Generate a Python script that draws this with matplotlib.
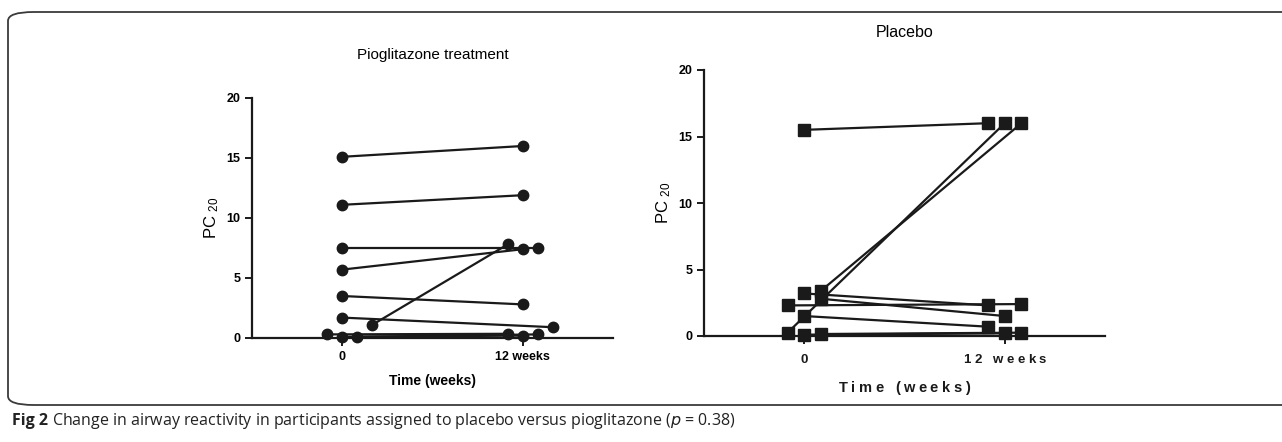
import matplotlib.pyplot as plt
from matplotlib.patches import FancyBboxPatch

plt.rcParams['font.family'] = ['Liberation Sans', 'DejaVu Sans']
plt.rcParams['mathtext.default'] = 'regular'

# Pioglitazone: x positions (jittered) and PC20 at baseline and 12 weeks
pio_x0 = [0, 0, 0, 0, 0, 0, -1, 0, 1, 2]
pio_y0 = [15.1, 11.1, 7.5, 5.7, 3.5, 1.7, 0.3, 0.1, 0.1, 1.1]
pio_x1 = [12, 12, 13, 12, 12, 14, 11, 12, 13, 11]
pio_y1 = [16.0, 11.9, 7.5, 7.4, 2.8, 0.9, 0.35, 0.2, 0.3, 7.8]

# Placebo
pla_x0 = [0, -1, 1, 0, 1, -1, 0, 0, 1]
pla_y0 = [15.5, 0.25, 3.4, 3.2, 2.8, 2.3, 1.5, 0.1, 0.15]
pla_x1 = [11, 12, 13, 11, 12, 13, 11, 12, 13]
pla_y1 = [16, 16, 16, 2.3, 1.5, 2.4, 0.7, 0.2, 0.25]

xticks = [0, 12]
xticklabels = ['0', '12 weeks']
yticks = [0, 5, 10, 15, 20]

fig = plt.figure(figsize=(12.82, 4.42), dpi=100)


def char_widths(s, **kw):
    r = fig.canvas.get_renderer()
    out = []
    for ch in s:
        if ch == ' ':
            a = fig.text(0, 0, 'aa', **kw).get_window_extent(r).width
            b = fig.text(0, 0, 'a a', **kw).get_window_extent(r).width
            out.append(b - a)
        else:
            out.append(fig.text(0, 0, ch, **kw).get_window_extent(r).width)
    for t in list(fig.texts):
        t.remove()
    return out


def spaced(ax, x, y, s, gap, xycoords, dy, **kw):
    # draws s with extra letter spacing, centred on (x, y)
    ws = char_widths(s, **kw)
    total = sum(ws) + gap * (len(s) - 1)
    off = -total / 2
    for ch, w in zip(s, ws):
        if ch != ' ':
            ax.annotate(ch, (x, y), xycoords=xycoords, xytext=(off + w / 2, dy),
                        textcoords='offset pixels', ha='center', va='top',
                        annotation_clip=False, **kw)
        off += w + gap


# rounded frame around the panels
frame = FancyBboxPatch((8/1282, 1-405/442), 1.2, 393/442,
                       boxstyle='round,pad=0,rounding_size=0.02',
                       transform=fig.transFigure, fill=False,
                       edgecolor='#3a3a3a', linewidth=1.3, clip_on=False)
fig.patches.append(frame)

ax1 = fig.add_axes([252/1282, 1-338/442, 361/1282, 240/442])
ax2 = fig.add_axes([704/1282, 1-336/442, 401/1282, 266/442])

col = '#1a1a1a'
for xa, ya, xb, yb in zip(pio_x0, pio_y0, pio_x1, pio_y1):
    ax1.plot([xa, xb], [ya, yb], color=col, lw=1.6, marker='o', ms=7.5,
             clip_on=False, zorder=3)
for xa, ya, xb, yb in zip(pla_x0, pla_y0, pla_x1, pla_y1):
    ax2.plot([xa, xb], [ya, yb], color=col, lw=1.6, marker='s', ms=8,
             clip_on=False, zorder=3)

for ax in (ax1, ax2):
    ax.set_xlim(-6, 18)
    ax.set_ylim(0, 20)
    ax.spines['top'].set_visible(False)
    ax.spines['right'].set_visible(False)
    ax.spines['left'].set_linewidth(1.6)
    ax.spines['bottom'].set_linewidth(1.6)
    ax.spines['left'].set_color(col)
    ax.spines['bottom'].set_color(col)
    ax.set_yticks(yticks)
    ax.set_xticks(xticks)
    ax.tick_params(width=1.4, length=5, color=col)
    ax.tick_params(axis='x', length=6)
    ax.set_ylabel('PC $_{20}$', fontsize=12)
    ax.set_yticklabels([str(v) for v in yticks], fontsize=9, fontweight='bold')

ax1.set_xticklabels(xticklabels, fontsize=9, fontweight='bold')
ax1.set_xlabel('Time (weeks)', fontsize=10, fontweight='bold', labelpad=8)
ax1.set_title('Pioglitazone treatment', fontsize=11, pad=28)
ax2.set_title('Placebo', fontsize=11.5, pad=24)

# the placebo panel has letter-spaced x labels
ax2.set_xticklabels([])
for xv, lab in zip(xticks, xticklabels):
    spaced(ax2, xv, 0, lab, 3.5, ('data', 'axes fraction'), -18,
           fontsize=9.5, fontweight='bold', color=col)
spaced(ax2, 0.5, 0, 'Time (weeks)', 3.5, 'axes fraction', -45,
       fontsize=10.5, fontweight='bold', color=col)

# caption
cap_kw = dict(fontsize=11.5, color='#222222', va='center',
              family=['Open Sans', 'DejaVu Sans'])
t1 = fig.text(12/1282, 1-421/442, 'Fig 2', fontweight='bold', **cap_kw)
bb = t1.get_window_extent(fig.canvas.get_renderer())
fig.text((bb.x1 + 4)/1282, 1-421/442,
         'Change in airway reactivity in participants assigned to placebo versus pioglitazone ($\\it{p}$ = 0.38)',
         **cap_kw)

fig.savefig('out.png', dpi=100)
